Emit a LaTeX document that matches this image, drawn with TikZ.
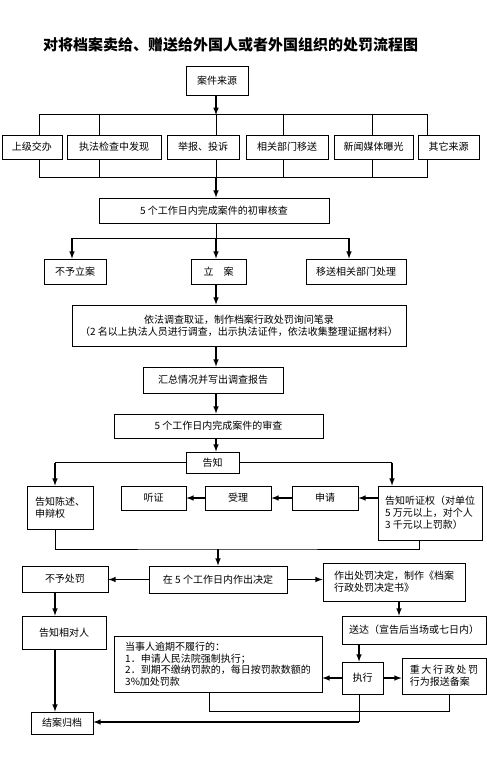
\documentclass[tikz,border=0pt]{standalone}
\usepackage{fontspec}
\setmainfont{Noto Sans CJK SC}

\begin{document}
\begin{tikzpicture}[>=latex, x=1pt, y=-1pt,
	box/.style={draw, rectangle, line width=0.8pt, inner sep=2pt, font=\fontsize{10}{12}\selectfont},
	arr/.style={->, line width=1.5pt},
	ln/.style={line width=0.8pt}]
			\useasboundingbox (0,0) rectangle (487,758);
			%%%	Help Lines
%			\draw [thin, help lines] (0,0) grid[step=50] (487,758);
			%%%	Titolo
			\node[font=\fontsize{15}{18}\selectfont\bfseries] (title) at (230.5,45) {对将档案卖给、赠送给外国人或者外国组织的处罚流程图};
			%%%	Fonti
			\node[box, minimum width=62pt, minimum height=29pt] (src) at (217,80.5) {案件来源};
			\node[box, minimum width=60pt, minimum height=24pt] (s1) at (32,147) {上级交办};
			\node[box, minimum width=94pt, minimum height=24pt] (s2) at (114,147) {执法检查中发现};
			\node[box, minimum width=72pt, minimum height=24pt] (s3) at (203,147) {举报、投诉};
			\node[box, minimum width=82pt, minimum height=24pt] (s4) at (287,147) {相关部门移送};
			\node[box, minimum width=79pt, minimum height=24pt] (s5) at (373.5,147) {新闻媒体曝光};
			\node[box, minimum width=61pt, minimum height=24pt] (s6) at (448.5,147) {其它来源};
			\node[box, minimum width=230pt, minimum height=25pt] (chk) at (214,210.5) {5 个工作日内完成案件的初审核查};
			%%%	立案
			\node[box, minimum width=62pt, minimum height=25pt] (n1) at (75,271.5) {不予立案};
			\node[box, minimum width=55pt, minimum height=25pt] (n2) at (218.5,271.5) {立\hspace{1em}案};
			\node[box, minimum width=100pt, minimum height=25pt] (n3) at (356,271.5) {移送相关部门处理};
			\node[box, minimum width=334pt, minimum height=41pt, align=center] (inv) at (239,325.5) {依法调查取证，制作档案行政处罚询问笔录\\（2 名以上执法人员进行调查，出示执法证件，依法收集整理证据材料）};
			\node[box, minimum width=140pt, minimum height=26pt] (rep) at (213,380) {汇总情况并写出调查报告};
			\node[box, minimum width=209pt, minimum height=24pt] (rev) at (218.5,426) {5 个工作日内完成案件的审查};
			\node[box, minimum width=53pt, minimum height=21pt] (tell) at (212.5,462.5) {告知};
			%%%	告知
			\node[box, minimum width=66pt, minimum height=43pt, align=left] (st) at (60,507.5) {告知陈述、\\申辩权};
			\node[box, minimum width=65pt, minimum height=24pt] (hear) at (153.5,498) {听证};
			\node[box, minimum width=66pt, minimum height=24pt] (acc) at (238,498) {受理};
			\node[box, minimum width=66pt, minimum height=24pt] (app) at (325,498) {申请};
			\node[box, minimum width=104pt, minimum height=54pt, align=left] (hr) at (430,513) {告知听证权（对单位\\5 万元以上，对个人\\3 千元以上罚款）};
			%%%	Decisione
			\node[box, minimum width=138pt, minimum height=27pt] (dec) at (218,579.5) {在 5 个工作日内作出决定};
			\node[box, minimum width=86pt, minimum height=26pt] (nop) at (65,579) {不予处罚};
			\node[box, minimum width=142pt, minimum height=38pt, align=left] (mk) at (394,582) {作出处罚决定，制作《档案\\行政处罚决定书》};
			\node[box, minimum width=84pt, minimum height=33pt] (inf) at (64,632.5) {告知相对人};
			\node[box, minimum width=144pt, minimum height=28pt] (del) at (414,630) {送达（宣告后当场或七日内）};
			\node[box, minimum width=41pt, minimum height=32pt] (exe) at (362.5,678) {执行};
			\node[box, minimum width=208pt, minimum height=56pt, align=left, font=\fontsize{10}{11.5}\selectfont] (ovd) at (218,664) {当事人逾期不履行的：\\1．申请人民法院强制执行；\\2．到期不缴纳罚款的，每日按罚款数额的\\3\%加处罚款};
			\node[box, minimum width=84pt, minimum height=36pt, align=left] (rpt) at (444,676) {重\,大\,行\,政\,处\,罚\\行为报送备案};
			\node[box, minimum width=62pt, minimum height=22pt] (fin) at (62,723) {结案归档};
			%%%	Colonne
			\coordinate (col) at (216,0);
			\coordinate (colL) at (55,0);
			\coordinate (colR) at (392,0);
			\coordinate (colM) at (399,0);
			\coordinate (colE) at (359,0);
			\coordinate (top) at (216,115);
			\coordinate (bot) at (216,177);
			\coordinate (split) at (216,238);
			\coordinate (j1) at (72,238);
			\coordinate (j3) at (349,238);
			\coordinate (mrg) at (218,549);
			\coordinate (fe) at (359,722);
			%%%	Frecce
			\draw[arr] (src.south -| col) -- (top);
			\draw[ln] ([xshift=7pt]s1.north) -- ++(0,-20) -| ([xshift=-21.5pt]s6.north);
			\draw[ln] ([xshift=-15pt]s2.north) -- ++(0,-20);
			\draw[ln] ([xshift=13pt]s3.north) -- ++(0,-20);
			\draw[ln] ([xshift=-4pt]s4.north) -- ++(0,-20);
			\draw[ln] ([xshift=-1.5pt]s5.north) -- ++(0,-20);
			\draw[ln] ([xshift=7pt]s1.south) -- ++(0,18) -| ([xshift=-21.5pt]s6.south);
			\draw[ln] ([xshift=-15pt]s2.south) -- ++(0,18);
			\draw[ln] ([xshift=13pt]s3.south) -- ++(0,18);
			\draw[ln] ([xshift=-4pt]s4.south) -- ++(0,18);
			\draw[ln] ([xshift=-1.5pt]s5.south) -- ++(0,18);
			\draw[arr] (bot) -- (chk.north -| col);
			\draw[ln] (chk.south -| col) -- (split);
			\draw[ln] (j1) -- (j3);
			\draw[arr] (j1) -- (n1.north -| j1);
			\draw[arr] (split) -- (n2.north -| col);
			\draw[arr] (j3) -- (n3.north -| j3);
			\draw[arr] (n2.south -| col) -- (inv.north -| col);
			\draw[arr] (inv.south -| col) -- (rep.north -| col);
			\draw[arr] (rep.south -| col) -- (rev.north -| col);
			\draw[arr] (rev.south -| col) -- (tell.north -| col);
			\draw[ln] (tell.west) -- (tell.west -| colL);
			\draw[arr] (tell.west -| colL) -- (st.north -| colL);
			\draw[ln] (tell.east) -- (tell.east -| colR);
			\draw[arr] (tell.east -| colR) -- (hr.north -| colR);
			\draw[arr] (hr.west |- app) -- (app.east);
			\draw[arr] (app.west) -- (acc.east);
			\draw[arr] (acc.west) -- (hear.east);
			\draw[ln] (st.south -| colL) |- (mrg) -| ([xshift=-11pt]hr.south);
			\draw[arr] (mrg) -- (dec.north -| mrg);
			\draw[arr] (dec.west) -- (nop.east |- dec.west);
			\draw[arr] (dec.east) -- (mk.west |- dec.east);
			\draw[arr] (nop.south -| colL) -- (inf.north -| colL);
			\draw[arr] (inf.south -| colL) -- (fin.north -| colL);
			\draw[arr] (mk.south -| colM) -- (del.north -| colM);
			\draw[arr] (del.south -| colE) -- (exe.north -| colE);
			\draw[arr] (exe.west) -- (ovd.east |- exe.west);
			\draw[arr] (exe.east) -- (rpt.west |- exe.east);
			\draw[ln] ([xshift=-9pt]ovd.south) -- ++(0,19) -| ([xshift=5pt]rpt.south);
			\draw[ln] (exe.south -| colE) -- (fe);
			\draw[arr] (fe) -- (fin.east |- fe);
		\end{tikzpicture}
\end{document}
